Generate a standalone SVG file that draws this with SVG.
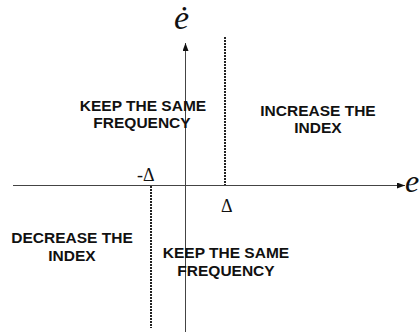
<svg xmlns="http://www.w3.org/2000/svg" width="420" height="332" viewBox="0 0 420 332">
<style>
.lbl{font-family:"Liberation Sans",Arial,sans-serif;font-weight:bold;font-size:15.5px;fill:#111;text-anchor:middle}
.axis{stroke:#444;stroke-width:1;fill:none}
.dot{stroke:#222;stroke-width:2;stroke-dasharray:2 1;fill:none}
.math{font-family:"Liberation Serif","Times New Roman",serif;fill:#111}
</style>
<defs>
<marker id="arr" viewBox="0 0 8 6" refX="8" refY="3" markerWidth="8" markerHeight="6" markerUnits="userSpaceOnUse" orient="auto">
<path d="M0,0 L8,3 L0,6 z" fill="#111"/>
</marker>
</defs>
<g id="connectors">
<line class="axis" x1="13" y1="185.5" x2="405" y2="185.5" marker-end="url(#arr)"/>
<line class="axis" x1="185.5" y1="332" x2="185.5" y2="43" marker-end="url(#arr)"/>
<line class="dot" x1="225" y1="37" x2="225" y2="185"/>
<line class="dot" x1="151" y1="186" x2="151" y2="328"/>
</g>
<g id="axis-labels">
<text class="math" x="174" y="29" font-size="34" font-style="italic">ė</text>
<text class="math" x="405" y="192" font-size="32" font-style="italic">e</text>
<text class="math" x="137" y="181" font-size="18">-Δ</text>
<text class="math" x="221" y="212" font-size="18">Δ</text>
</g>
<g id="q2"><text class="lbl" x="143" y="111">KEEP THE SAME</text><text class="lbl" x="142" y="128">FREQUENCY</text></g>
<g id="q1"><text class="lbl" x="318" y="116">INCREASE THE</text><text class="lbl" x="318" y="133">INDEX</text></g>
<g id="q3"><text class="lbl" x="72" y="243">DECREASE THE</text><text class="lbl" x="72" y="261">INDEX</text></g>
<g id="q4"><text class="lbl" x="226" y="258">KEEP THE SAME</text><text class="lbl" x="226" y="276">FREQUENCY</text></g>
</svg>
